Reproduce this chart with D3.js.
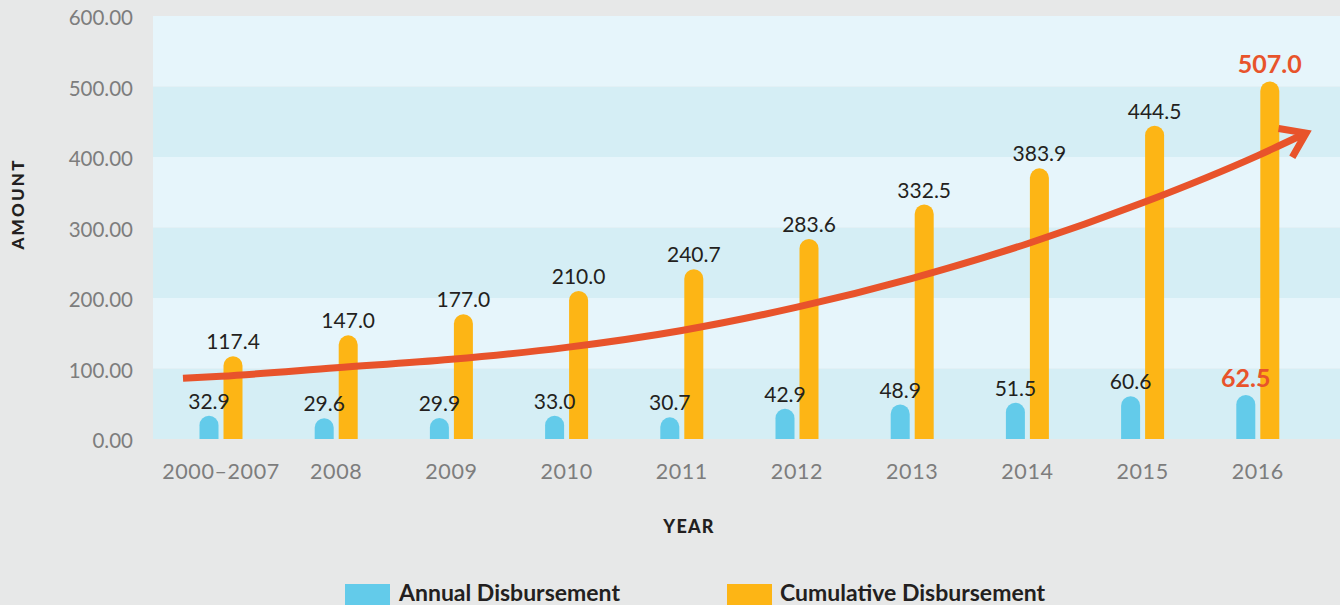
<!DOCTYPE html>
<html><head><meta charset="utf-8">
<script src="https://cdn.jsdelivr.net/npm/d3@7"></script>
<style>
html,body{margin:0;padding:0;background:#e7e8e8;}
svg{display:block;font-family:Lato,"Open Sans",sans-serif;}
</style></head>
<body><svg id="chart" width="1340" height="605"></svg>
<script>
const categories = ["2000–2007","2008","2009","2010","2011","2012","2013","2014","2015","2016"];
const annual = [32.9,29.6,29.9,33.0,30.7,42.9,48.9,51.5,60.6,62.5];
const cumulative = [117.4,147.0,177.0,210.0,240.7,283.6,332.5,383.9,444.5,507.0];
const yTicks = [0,100,200,300,400,500,600];
// decorative trend arrow: [category index position, value]
const trendIdx = [-0.33,0,1,2,3,4,5,6,7,8,9,9.42];
const trendVal = [86,89,101,113,130,154,187,228,277,335,402,434];
const highlightIndex = 9;

const svg = d3.select("#chart");
const plot = {left:153, right:1340, top:16, bottom:439};

const x = d3.scaleBand().domain(categories).range([163.4,1315.4]).padding(0);
const y = d3.scaleLinear().domain([0,600]).range([plot.bottom, plot.top]);
const xIdx = d3.scaleLinear().domain([0,categories.length-1])
  .range([x(categories[0])+x.bandwidth()/2, x(categories[categories.length-1])+x.bandwidth()/2]);

const colors = {annual:"#63cbea", cum:"#fdb515", accent:"#e8532b", bandA:"#e6f5fb", bandB:"#d5eef5", text:"#231f20", axis:"#7d7d7d"};

// bands
for(let i=0;i<yTicks.length-1;i++){
  const v0=yTicks[i], v1=yTicks[i+1];
  svg.append("rect").attr("x",plot.left).attr("width",plot.right-plot.left)
    .attr("y",y(v1)).attr("height",y(v0)-y(v1))
    .attr("fill", i%2===0 ? colors.bandB : colors.bandA);
}

// y axis labels
svg.append("g").selectAll("text").data(yTicks).join("text")
  .attr("x",133).attr("y",d=>y(d)+2).attr("dy","0.35em")
  .attr("text-anchor","end").attr("font-size",20.5).attr("fill",colors.axis)
  .text(d=>d3.format(".2f")(d));

// x axis labels
svg.append("g").selectAll("text").data(categories).join("text")
  .attr("x",d=>x(d)+x.bandwidth()/2).attr("y",471).attr("dy","0.35em")
  .attr("text-anchor","middle").attr("font-size",21.5).attr("fill",colors.axis)
  .attr("letter-spacing",0.6)
  .text(d=>d);

// axis titles
svg.append("text").attr("transform","translate(18,204) rotate(-90)")
  .attr("text-anchor","middle").attr("dy","0.35em").attr("font-size",17).attr("font-weight",900)
  .attr("letter-spacing",2.2)
  .attr("fill",colors.text).text("AMOUNT");
svg.append("text").attr("x",689).attr("y",527).attr("dy","0.35em")
  .attr("text-anchor","middle").attr("font-size",18).attr("font-weight",900)
  .attr("letter-spacing",1.2)
  .attr("fill",colors.text).text("YEAR");

const bw = 19;
function barPath(x0, v){
  const top = y(v), base = y(0), r = bw/2;
  return `M${x0},${base}L${x0},${top+r}A${r},${r} 0 0 1 ${x0+bw},${top+r}L${x0+bw},${base}Z`;
}
const cx = c => x(c)+x.bandwidth()/2;

const g = svg.append("g");
g.selectAll("path.a").data(categories).join("path").attr("class","a")
  .attr("d",(c,i)=>barPath(cx(c)-21.5, annual[i])).attr("fill",colors.annual);
g.selectAll("path.c").data(categories).join("path").attr("class","c")
  .attr("d",(c,i)=>barPath(cx(c)+2.5, cumulative[i])).attr("fill",colors.cum);

// trend arrow
const defs = svg.append("defs");
defs.append("marker").attr("id","head").attr("markerUnits","userSpaceOnUse")
  .attr("markerWidth",60).attr("markerHeight",60).attr("viewBox","-40 -30 60 60")
  .attr("refX",0).attr("refY",0).attr("orient","auto")
  .append("path").attr("d","M-23,-16L0,0L-23,16").attr("fill","none")
  .attr("stroke",colors.accent).attr("stroke-width",7).attr("stroke-linejoin","miter");
const trend = trendIdx.map((t,i)=>[xIdx(t), y(trendVal[i])]);
svg.append("path").datum(trend)
  .attr("d", d3.line().curve(d3.curveMonotoneX))
  .attr("fill","none").attr("stroke",colors.accent).attr("stroke-width",7)
  .attr("marker-end","url(#head)");

// value labels
const lab = svg.append("g");
const isH = i => i===highlightIndex;
lab.selectAll("text.a").data(categories).join("text").attr("class","a")
  .attr("x",c=>cx(c)-12).attr("y",(c,i)=>y(annual[i])-(isH(i)?8:7))
  .attr("text-anchor","middle")
  .attr("font-size",(c,i)=>isH(i)?25:21)
  .attr("fill",(c,i)=>isH(i)?colors.accent:colors.text)
  .attr("font-weight",(c,i)=>isH(i)?700:400)
  .text((c,i)=>d3.format(".1f")(annual[i]));
lab.selectAll("text.c").data(categories).join("text").attr("class","c")
  .attr("x",c=>cx(c)+12).attr("y",(c,i)=>y(cumulative[i])-(isH(i)?9:7))
  .attr("text-anchor","middle")
  .attr("font-size",(c,i)=>isH(i)?25:21)
  .attr("fill",(c,i)=>isH(i)?colors.accent:colors.text)
  .attr("font-weight",(c,i)=>isH(i)?700:400)
  .text((c,i)=>d3.format(".1f")(cumulative[i]));

// legend
const legend = [{label:"Annual Disbursement", color:colors.annual, x:345, tx:399},
                {label:"Cumulative Disbursement", color:colors.cum, x:727, tx:780}];
const lg = svg.append("g").selectAll("g").data(legend).join("g");
lg.append("rect").attr("x",d=>d.x).attr("y",584).attr("width",45).attr("height",25).attr("fill",d=>d.color);
lg.append("text").attr("x",d=>d.tx).attr("y",601).attr("font-size",23).attr("font-weight",700)
  .attr("fill",colors.text).text(d=>d.label);
</script></body></html>
